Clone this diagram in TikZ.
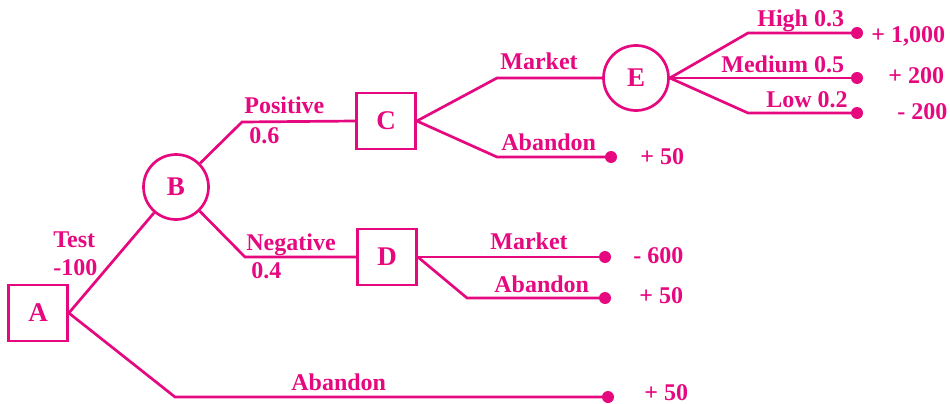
\documentclass[tikz,border=0pt]{standalone}
\usepackage{fontspec}
\setmainfont{Liberation Serif}
\definecolor{pk}{HTML}{E6087F}
\begin{document}
\begin{tikzpicture}[x=1pt,y=-1pt,line width=2.7pt,pk,
  decbox/.style={draw,rectangle,minimum width=59pt,minimum height=56pt,inner sep=0pt,font=\fontsize{27}{30}\selectfont\bfseries},
  chnode/.style={draw,circle,minimum size=65pt,inner sep=0pt,font=\fontsize{27}{30}\selectfont\bfseries},
  lbl/.style={anchor=base west,inner sep=0pt,font=\fontsize{24}{28}\selectfont\bfseries},
  endpt/.style={circle,fill,minimum size=12pt,inner sep=0pt}]
\useasboundingbox (0,0) rectangle (950,404);
% decision and chance nodes
\node[decbox] (A) at (38,313) {A};
\node[chnode] (B) at (176,187) {B};
\node[decbox] (C) at (386,121) {C};
\node[decbox] (D) at (387,257) {D};
\node[chnode] (E) at (636,78) {E};
% bends
\coordinate (p1) at (242,122);
\coordinate (p2) at (245,257);
\coordinate (p3) at (497,78);
\coordinate (p4) at (497,157);
\coordinate (p5) at (467,298);
\coordinate (p6) at (748,33);
\coordinate (p7) at (748,113);
\coordinate (p8) at (175,397);
% end points
\node[endpt] (t1) at (857,33) {};
\node[endpt] (t2) at (857,78) {};
\node[endpt] (t3) at (857,113) {};
\node[endpt] (t4) at (611,157) {};
\node[endpt] (t5) at (605,257) {};
\node[endpt] (t6) at (605,298) {};
\node[endpt] (t7) at (608,397) {};
% connectors
\draw (A.east) -- (B);
\draw (B) -- (p1) -- (C.west);
\draw (B) -- (p2) -- (D.west);
\draw (C.east) -- (p3) -- (E.west);
\draw (C.east) -- (p4) -- (t4.center);
\draw (E.east) -- (p6) -- (t1.center);
\draw (E.east) -- (t2.center);
\draw (E.east) -- (p7) -- (t3.center);
\draw (D.east) -- (t5.center);
\draw (D.east) -- (p5) -- (t6.center);
\draw (A.east) -- (p8) -- (t7.center);
% labels
\node[lbl] (l1) at (52,247) {Test};
\node[lbl] (l2) at (52,275) {-100};
\node[lbl] (l3) at (243,113) {Positive};
\node[lbl] (l4) at (248,143) {0.6};
\node[lbl] (l5) at (245,250) {Negative};
\node[lbl] (l6) at (250,278) {0.4};
\node[lbl] (l7) at (499,70) {Market};
\node[lbl] (l8) at (500,150) {Abandon};
\node[lbl] (l9) at (639,164) {+ 50};
\node[lbl] (l10) at (756,27) {High 0.3};
\node[lbl] (l11) at (720,72) {Medium 0.5};
\node[lbl] (l12) at (765,107) {Low 0.2};
\node[lbl] (l13) at (870,43) {+ 1,000};
\node[lbl] (l14) at (887,83) {+ 200};
\node[lbl] (l15) at (896,119) {- 200};
\node[lbl] (l16) at (489,249) {Market};
\node[lbl] (l17) at (632,263) {- 600};
\node[lbl] (l18) at (493,292) {Abandon};
\node[lbl] (l19) at (638,303) {+ 50};
\node[lbl] (l20) at (290,390) {Abandon};
\node[lbl] (l21) at (643,400) {+ 50};
\end{tikzpicture}
\end{document}
